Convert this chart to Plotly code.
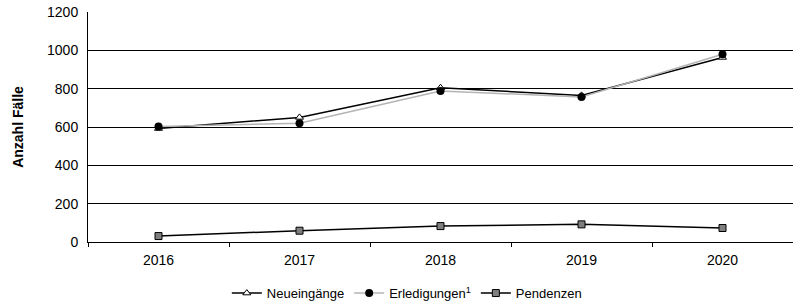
import plotly.graph_objects as go

years = ["2016", "2017", "2018", "2019", "2020"]
neueingaenge = [592, 650, 805, 765, 963]
erledigungen = [603, 620, 788, 757, 980]
pendenzen = [31, 59, 83, 92, 73]

fig = go.Figure()
fig.add_trace(go.Scatter(
    x=years, y=neueingaenge, name="Neueingänge", mode="lines+markers",
    line=dict(color="black", width=1.5),
    marker=dict(symbol="triangle-up", size=7, color="white", line=dict(color="black", width=1)),
))
fig.add_trace(go.Scatter(
    x=years, y=erledigungen, name="Erledigungen<sup>1</sup>", mode="lines+markers",
    line=dict(color="#b4b4b4", width=1.5),
    marker=dict(symbol="circle", size=8, color="black", line=dict(color="black", width=0)),
))
fig.add_trace(go.Scatter(
    x=years, y=pendenzen, name="Pendenzen", mode="lines+markers",
    line=dict(color="black", width=1.5),
    marker=dict(symbol="square", size=7, color="#7f7f7f", line=dict(color="black", width=1)),
))

fig.update_layout(
    width=793, height=305,
    margin=dict(l=88, r=0, t=12, b=63, autoexpand=False),
    paper_bgcolor="white", plot_bgcolor="white",
    font=dict(family="Liberation Sans, Arial, sans-serif", size=14, color="black"),
    showlegend=True,
    legend=dict(orientation="h", x=0.513, xref="container", xanchor="center",
                y=0.039, yref="container", yanchor="middle",
                font=dict(family="Liberation Sans, Arial, sans-serif", size=13),
                tracegroupgap=0, bgcolor="rgba(0,0,0,0)"),
    xaxis=dict(
        type="category", range=[-0.5, 4.5], automargin=False,
        showline=True, linecolor="black", linewidth=1,
        ticks="outside", tickson="boundaries", ticklen=4, tickcolor="black",
        showgrid=False, tickfont=dict(size=14), ticklabelstandoff=5, fixedrange=True,
    ),
    yaxis=dict(
        range=[0, 1200], dtick=200, automargin=False,
        showline=True, linecolor="black", linewidth=1,
        showgrid=True, gridcolor="black", gridwidth=1,
        zeroline=False, ticks="", tickfont=dict(size=14), ticklabelstandoff=6,
        title=dict(text="<b>Anzahl Fälle</b>", font=dict(size=14), standoff=20),
        fixedrange=True,
    ),
)

fig.write_html(
    "out.html",
    config={"displayModeBar": False},
    post_script="document.body.style.margin='0';document.body.style.overflow='hidden';",
)
